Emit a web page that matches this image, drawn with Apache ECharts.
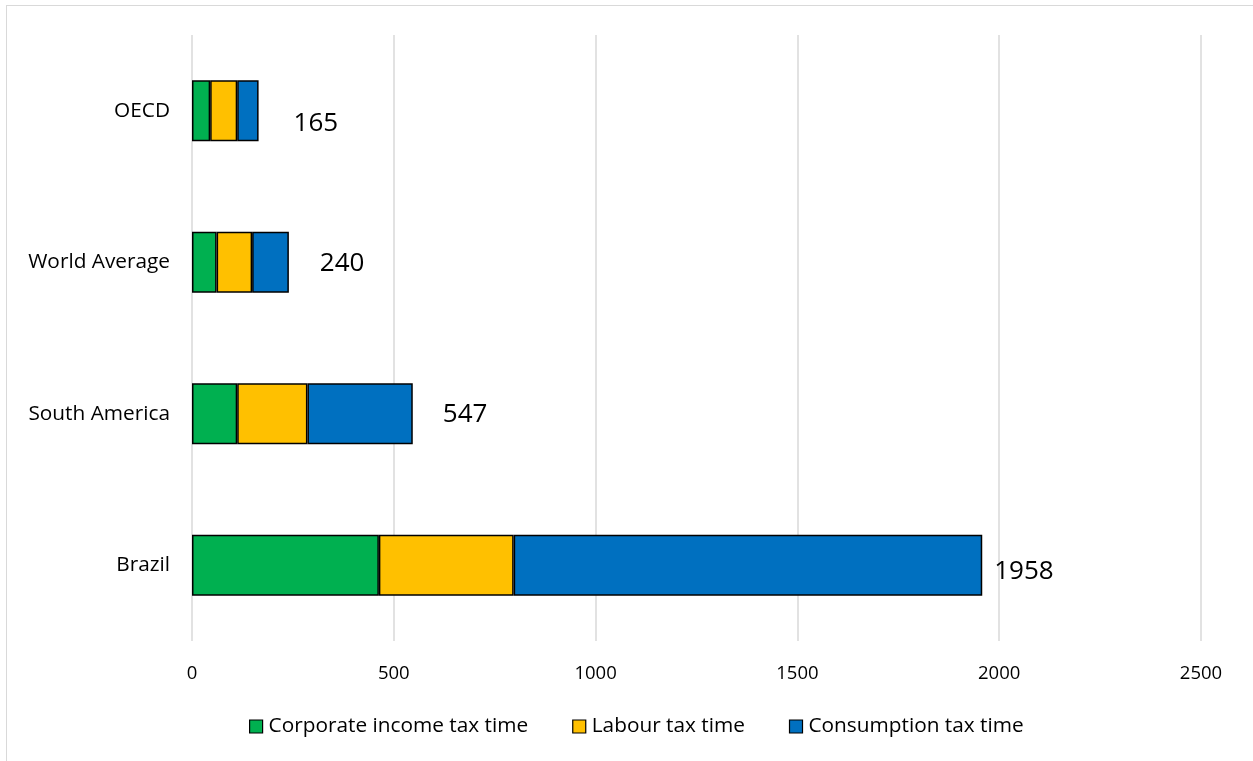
<!DOCTYPE html>
<html>
<head>
<meta charset="utf-8">
<script src="https://cdn.jsdelivr.net/npm/echarts@6/dist/echarts.min.js"></script>
<style>
html,body{margin:0;padding:0;background:#fff;overflow:hidden;}
#frame{position:absolute;left:6px;top:5px;width:1300px;height:800px;border:1.5px solid #d9d9d9;box-sizing:border-box;}
#chart{position:absolute;left:0;top:0;width:1253px;height:761px;}
</style>
</head>
<body>
<div id="frame"></div>
<div id="chart"></div>
<script>
const categories = ['Brazil', 'South America', 'World Average', 'OECD'];
const corporate = [463, 112, 61, 45];
const labour = [334, 174, 88, 67];
const consumption = [1161, 261, 91, 53];
const totals = [1958, 547, 240, 165];
const xTicks = [0, 500, 1000, 1500, 2000, 2500];

const labelDist = [12, 30, 31, 35];
const labelDy = [6, 1, 1, 13];
const chart = echarts.init(document.getElementById('chart'));
const font = "'Open Sans', 'Noto Sans', sans-serif";
const border = {borderColor:'#000', borderWidth:1.5};
chart.setOption({
  animation:false,
  textStyle:{fontFamily:font},
  grid:{left:192, right:52, top:35, bottom:120},
  legend:{
    bottom:19, left:244, itemWidth:13, itemHeight:13, itemGap:44,
    icon:'rect',
    itemStyle:{borderColor:'#000', borderWidth:1.2},
    textStyle:{fontSize:20.8, color:'#000', fontFamily:font, padding:[0,0,0,1]},
    data:['Corporate income tax time','Labour tax time','Consumption tax time']
  },
  xAxis:{
    type:'value', min:xTicks[0], max:xTicks[xTicks.length-1], interval:xTicks[1]-xTicks[0],
    axisLine:{show:false}, axisTick:{show:false},
    splitLine:{lineStyle:{color:'#d9d9d9', width:1.5}},
    axisLabel:{fontSize:18.5, color:'#000', margin:23, formatter:v=>String(v)}
  },
  yAxis:{
    type:'category', data:categories,
    axisLine:{show:false}, axisTick:{show:false},
    axisLabel:{fontSize:20.8, color:'#000', margin:22}
  },
  series:[
    {name:'Corporate income tax time', type:'bar', stack:'t', barWidth:61,
     itemStyle:Object.assign({color:'#00b050'}, border), data:corporate},
    {name:'Labour tax time', type:'bar', stack:'t',
     itemStyle:Object.assign({color:'#ffc000'}, border), data:labour},
    {name:'Consumption tax time', type:'bar', stack:'t',
     itemStyle:Object.assign({color:'#0070c0'}, border),
     data:consumption.map((v,i)=>({value:v, label:{distance:labelDist[i], offset:[0,labelDy[i]]}})),
     label:{show:true, position:'right', fontSize:26, color:'#000', fontFamily:font,
       formatter:p=>String(totals[p.dataIndex])}}
  ]
});
</script>
</body>
</html>
